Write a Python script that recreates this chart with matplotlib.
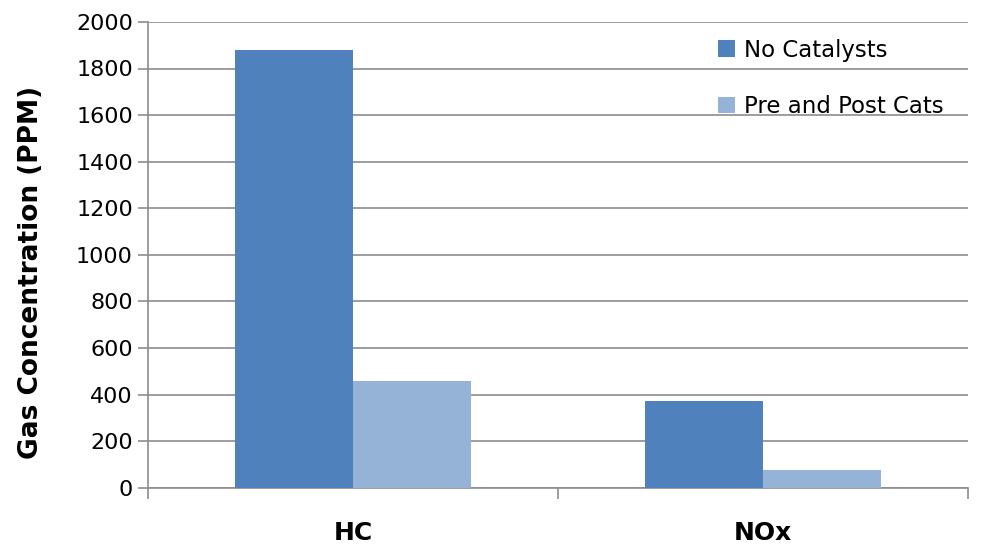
import numpy as np
import matplotlib.pyplot as plt

categories = ['HC', 'NOx']
series_names = ['No Catalysts', 'Pre and Post Cats']
no_cat = [1880, 372]
pre_post = [460, 78]
colors = ['#4F81BD', '#95B3D7']

plt.rcParams['font.family'] = 'DejaVu Sans'

fig = plt.figure(figsize=(9.81, 5.48), dpi=100)
ax = fig.add_axes([0.151, 0.110, 0.836, 0.850])

x = np.arange(len(categories))
w = 0.288
ax.bar(x - w / 2, no_cat, w, color=colors[0], label=series_names[0], zorder=3)
ax.bar(x + w / 2, pre_post, w, color=colors[1], label=series_names[1], zorder=3)

ax.set_xlim(-0.5, 1.5)
ax.set_ylim(0, 2000)
ax.set_yticks(range(0, 2001, 200))
ax.yaxis.grid(True, color='#8c8c8c', linewidth=1.2, zorder=0)

# category ticks sit on the group boundaries, labels at the centres
ax.set_xticks([-0.5, 0.5, 1.5])
ax.set_xticklabels([])
ax.set_xticks(x, minor=True)
ax.set_xticklabels(categories, minor=True, fontsize=18, fontweight='bold')
ax.tick_params(axis='x', which='minor', length=0, pad=24)
ax.tick_params(axis='x', which='major', length=8, color='#8c8c8c', width=1.2)
ax.tick_params(axis='y', length=7, color='#8c8c8c', width=1.2, labelsize=16, pad=4)

for s in ['top', 'right']:
    ax.spines[s].set_visible(False)
for s in ['left', 'bottom']:
    ax.spines[s].set_color('#8c8c8c')
    ax.spines[s].set_linewidth(1.2)

ax.set_ylabel('Gas Concentration (PPM)', fontsize=19, fontweight='bold')
ax.yaxis.set_label_coords(-0.127, 0.463)

ax.legend(loc='upper right', bbox_to_anchor=(0.995, 1.008), frameon=False, fontsize=16.5,
          handlelength=0.75, handleheight=0.75, handletextpad=0.4, labelspacing=1.45)

fig.savefig('out.png', dpi=100)
